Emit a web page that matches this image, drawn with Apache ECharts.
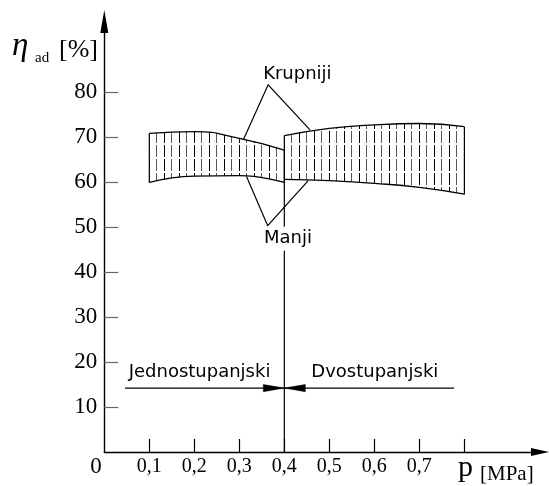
<!DOCTYPE html>
<html><head><meta charset="utf-8">
<script src="https://cdn.jsdelivr.net/npm/echarts@6/dist/echarts.min.js"></script>
<style>html,body{margin:0;padding:0;background:#fff}#c{width:549px;height:486px}</style>
</head><body><div id="c"></div>
<script>
// ---- data ----
const yTicks = [10, 20, 30, 40, 50, 60, 70, 80];
const yLabels = ['10', '20', '30', '40', '50', '60', '70', '80'];
const xTicks = [0.1, 0.2, 0.3, 0.4, 0.5, 0.6, 0.7, 0.8];
const xLabelValues = [0.1, 0.2, 0.3, 0.4, 0.5, 0.6, 0.7];
const xLabels = ['0,1', '0,2', '0,3', '0,4', '0,5', '0,6', '0,7'];

const band1X = [0.1, 0.2, 0.3, 0.4];
const band1Top = [70.8, 71.2, 69.7, 67.1];
const band1Bottom = [59.9, 61.3, 61.4, 59.9];

const band2X = [0.4, 0.5, 0.6, 0.7, 0.8];
const band2Top = [70.3, 71.9, 72.7, 73.0, 72.3];
const band2Bottom = [60.6, 60.3, 59.7, 58.8, 57.3];

const dividerX = 0.4;
const krupnijiLeader = [[0.309, 69.4], [0.364, 81.6], [0.457, 71.6]];
const manjiLeader = [[0.316, 61.2], [0.363, 50.3], [0.453, 60.3]];
const jednoArrow = [[0.046, 14.2], [0.4, 14.2]];
const dvoArrow = [[0.777, 14.2], [0.4, 14.2]];

const noteTexts = ['Krupniji', 'Manji', 'Jednostupanjski', 'Dvostupanjski'];
const noteX = [0.429, 0.408, 0.2116, 0.601];
const noteY = [84.0, 47.4, 17.7, 17.7];

// ---- drawing ----
function hatchPattern() {
  const c = document.createElement('canvas');
  c.width = 15; c.height = 14;
  const g = c.getContext('2d');
  g.fillStyle = '#000';
  g.fillRect(14, 0, 1, 3); g.fillRect(14, 5, 1, 9);
  g.fillStyle = '#555';
  g.fillRect(6, 0, 1, 3); g.fillRect(6, 5, 1, 9);
  return c;
}
const hatch = hatchPattern();

function bandSeries(xs, bottom, top) {
  const base = Math.min(...bottom);
  const common = { type: 'line', smooth: true, showSymbol: false, silent: true,
    animation: false, lineStyle: { color: '#000', width: 1.3 } };
  return [
    Object.assign({}, common, { z: 2, data: xs.map((x, i) => [x, top[i]]),
      areaStyle: { color: { image: hatch, repeat: 'repeat' }, opacity: 1, origin: base } }),
    Object.assign({}, common, { z: 3, data: xs.map((x, i) => [x, bottom[i]]),
      areaStyle: { color: '#fff', opacity: 1, origin: base - 0.6 } })
  ];
}

const l1 = band1X.length - 1, l2 = band2X.length - 1;
const polylines = [
  [[band1X[0], band1Bottom[0]], [band1X[0], band1Top[0]]],
  [[band1X[l1], band1Bottom[l1]], [band1X[l1], band1Top[l1]]],
  [[dividerX, 0], [band2X[0], band2Top[0]]],
  [[band2X[l2], band2Bottom[l2]], [band2X[l2], band2Top[l2]]],
  krupnijiLeader, manjiLeader, jednoArrow, dvoArrow
];
const arrows = [jednoArrow, dvoArrow];

const serif = '"Liberation Serif", "Times New Roman", serif';
const sans = '"DejaVu Sans", Verdana, sans-serif';

const chart = echarts.init(document.getElementById('c'), null, { renderer: 'canvas' });
chart.setOption({
  animation: false,
  backgroundColor: '#fff',
  grid: { left: 104.3, right: 9, top: 21.5, bottom: 34, containLabel: false },
  xAxis: {
    type: 'value', min: 0, max: 0.968, z: 10,
    axisLine: { show: true, onZero: false, symbol: ['none', 'triangle'], symbolSize: [8, 18],
      lineStyle: { color: '#000', width: 1.4 } },
    axisTick: { show: true, inside: true, length: 13, customValues: xTicks,
      lineStyle: { color: '#000', width: 1.2 } },
    axisLabel: { customValues: xLabelValues, margin: 5, color: '#000', fontFamily: serif, fontSize: 20,
      formatter: v => xLabels[xLabelValues.findIndex(t => Math.abs(t - v) < 1e-6)] || '' },
    splitLine: { show: false }
  },
  yAxis: {
    type: 'value', min: 0, max: 95.67, z: 10,
    axisLine: { show: true, onZero: false, symbol: ['none', 'triangle'], symbolSize: [8, 23],
      lineStyle: { color: '#000', width: 1.4 } },
    axisTick: { show: true, inside: true, length: 14, customValues: yTicks,
      lineStyle: { color: '#666', width: 1.2 } },
    axisLabel: { customValues: yTicks, margin: 7, color: '#000', fontFamily: serif, fontSize: 23,
      formatter: v => yLabels[yTicks.indexOf(Math.round(v))] || '' },
    splitLine: { show: false }
  },
  graphic: [
    { type: 'text', x: 12, y: 46, style: { text: 'η', font: 'italic 33px ' + serif, fill: '#000', verticalAlign: 'middle' } },
    { type: 'text', x: 35, y: 58, style: { text: 'ad', font: '15px ' + serif, fill: '#000', verticalAlign: 'middle' } },
    { type: 'text', x: 59, y: 50, style: { text: '[%]', font: '26px ' + serif, fill: '#000', verticalAlign: 'middle' } },
    { type: 'text', x: 96, y: 467, style: { text: '0', font: '23px ' + serif, fill: '#000', align: 'center', verticalAlign: 'middle' } },
    { type: 'text', x: 458, y: 468, style: { text: 'p', font: '30px ' + serif, fill: '#000', verticalAlign: 'middle' } },
    { type: 'text', x: 480, y: 474, style: { text: '[MPa]', font: '21px ' + serif, fill: '#000', verticalAlign: 'middle' } }
  ],
  series: [
    ...bandSeries(band1X, band1Bottom, band1Top),
    ...bandSeries(band2X, band2Bottom, band2Top),
    {
      type: 'custom', clip: false, silent: true, z: 4,
      data: [[0, 0]],
      renderItem: (params, api) => {
        const children = polylines.map(pl => ({
          type: 'polyline', shape: { points: pl.map(p => api.coord(p)) },
          style: { stroke: '#000', lineWidth: 1.2, fill: null }
        }));
        arrows.forEach(a => {
          const tip = api.coord(a[a.length - 1]);
          const prev = api.coord(a[a.length - 2]);
          const dx = tip[0] - prev[0], dy = tip[1] - prev[1];
          const len = Math.hypot(dx, dy), ux = dx / len, uy = dy / len;
          const L = 21, W = 3.6;
          const bx = tip[0] - ux * L, by = tip[1] - uy * L;
          children.push({ type: 'polygon', shape: { points: [tip, [bx - uy * W, by + ux * W], [bx + uy * W, by - ux * W]] },
            style: { fill: '#000', stroke: '#000', lineWidth: 0.5 } });
        });
        return { type: 'group', children };
      }
    },
    {
      type: 'custom', clip: false, silent: true, z: 5,
      data: noteTexts.map((t, i) => [noteX[i], noteY[i]]),
      renderItem: (params, api) => {
        const p = api.coord([api.value(0), api.value(1)]);
        const i = params.dataIndex;
        return { type: 'text', style: { text: noteTexts[i], x: p[0], y: p[1], align: 'center', verticalAlign: 'middle',
          font: '18px ' + sans, fill: '#000',
          backgroundColor: i === 1 ? '#fff' : null, padding: i === 1 ? [3, 0, 3, 0] : 0 } };
      }
    }
  ]
});
</script>
</body></html>
